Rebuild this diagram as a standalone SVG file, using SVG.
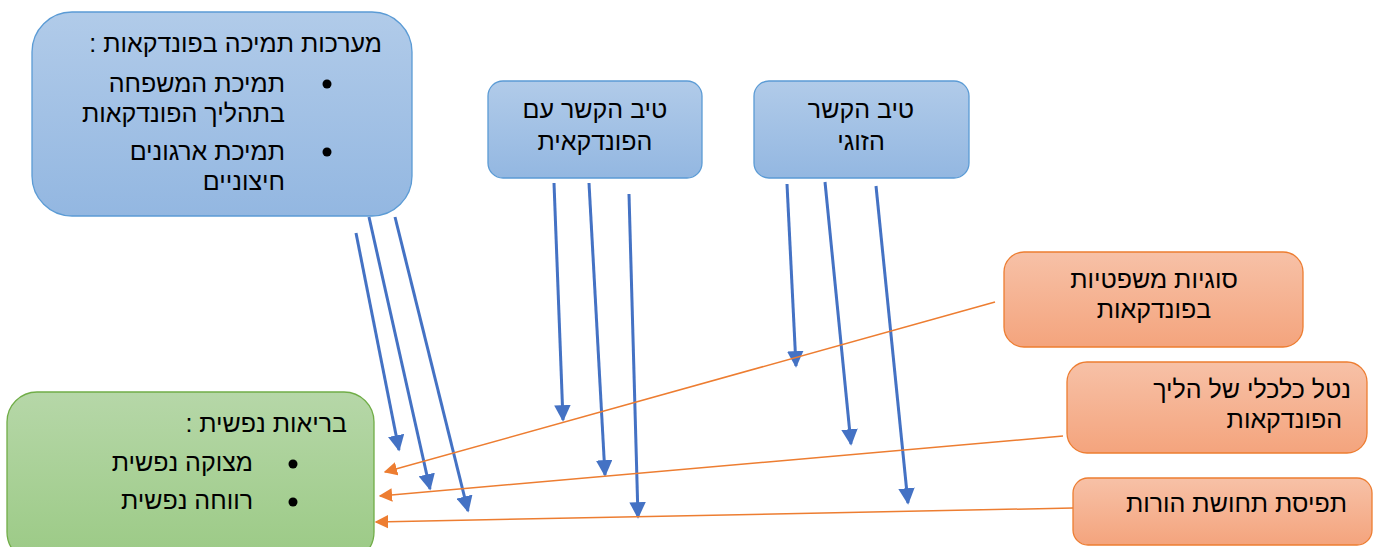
<svg xmlns="http://www.w3.org/2000/svg" width="1377" height="547" viewBox="0 0 1377 547">
  <style>
    .t { font-family: "Liberation Sans", "DejaVu Sans", sans-serif; font-size: 25px; fill: #000; }
    .r { direction: rtl; unicode-bidi: embed; text-anchor: start; }
    .c { direction: rtl; unicode-bidi: embed; text-anchor: middle; }
    .blue { fill: url(#gBlue); stroke: #5b9bd5; stroke-width: 1.3; }
    .green { fill: url(#gGreen); stroke: #70ad47; stroke-width: 1.3; }
    .orange { fill: url(#gOrange); stroke: #ed7d31; stroke-width: 1.3; }
    .ab { stroke: #4472c4; stroke-width: 3; fill: none; marker-end: url(#mBlue); }
    .ao { stroke: #ed7d31; stroke-width: 1.5; fill: none; marker-end: url(#mOrange); }
  </style>
  <defs>
    <linearGradient id="gBlue" x1="0" y1="0" x2="0" y2="1">
      <stop offset="0" stop-color="#b1cbe9"/>
      <stop offset="1" stop-color="#93b7e1"/>
    </linearGradient>
    <linearGradient id="gGreen" x1="0" y1="0" x2="0" y2="1">
      <stop offset="0" stop-color="#b6d7a8"/>
      <stop offset="1" stop-color="#9bca85"/>
    </linearGradient>
    <linearGradient id="gOrange" x1="0" y1="0" x2="0" y2="1">
      <stop offset="0" stop-color="#f7c1a7"/>
      <stop offset="1" stop-color="#f4a47d"/>
    </linearGradient>
    <marker id="mBlue" viewBox="0 0 10 10" refX="9" refY="5" markerWidth="5.5" markerHeight="5.5" orient="auto" markerUnits="strokeWidth">
      <path d="M0,0 L10,5 L0,10 Z" fill="#4472c4"/>
    </marker>
    <marker id="mOrange" viewBox="0 0 10 10" refX="9" refY="5" markerWidth="9" markerHeight="9" orient="auto" markerUnits="strokeWidth">
      <path d="M0,0 L10,5 L0,10 Z" fill="#ed7d31"/>
    </marker>
  </defs>

  <!-- support systems -->
  <g id="support">
    <rect class="blue" x="32" y="12" width="380" height="204" rx="40"/>
    <text class="t r" x="382" y="52">מערכות תמיכה בפונדקאות :</text>
    <circle cx="327" cy="84" r="4.5" fill="#000"/>
    <text class="t r" x="285" y="92">תמיכת המשפחה</text>
    <text class="t r" x="285" y="122">בתהליך הפונדקאות</text>
    <circle cx="327" cy="152" r="4.5" fill="#000"/>
    <text class="t r" x="285" y="160">תמיכת ארגונים</text>
    <text class="t r" x="285" y="190">חיצוניים</text>
  </g>

  <!-- relationship with surrogate -->
  <g id="surrogate-relation">
    <rect class="blue" x="488" y="81" width="214" height="97" rx="15"/>
    <text class="t c" x="595" y="118">טיב הקשר עם</text>
    <text class="t c" x="595" y="150">הפונדקאית</text>
  </g>

  <!-- couple relationship -->
  <g id="couple-relation">
    <rect class="blue" x="754" y="81" width="215" height="97" rx="15"/>
    <text class="t c" x="861" y="118">טיב הקשר</text>
    <text class="t c" x="861" y="150">הזוגי</text>
  </g>

  <!-- mental health -->
  <g id="mental-health">
    <rect class="green" x="7" y="392" width="367" height="170" rx="30"/>
    <text class="t r" x="347" y="432">בריאות נפשית :</text>
    <circle cx="293" cy="464" r="4.5" fill="#000"/>
    <text class="t r" x="253" y="471">מצוקה נפשית</text>
    <circle cx="293" cy="502" r="4.5" fill="#000"/>
    <text class="t r" x="253" y="509">רווחה נפשית</text>
  </g>

  <!-- legal issues -->
  <g id="legal">
    <rect class="orange" x="1004" y="252" width="299" height="95" rx="20"/>
    <text class="t c" x="1154" y="288">סוגיות משפטיות</text>
    <text class="t c" x="1154" y="318">בפונדקאות</text>
  </g>

  <!-- financial burden -->
  <g id="financial">
    <rect class="orange" x="1067" y="362" width="300" height="91" rx="20"/>
    <text class="t r" x="1351" y="398">נטל כלכלי של הליך</text>
    <text class="t r" x="1342" y="428">הפונדקאות</text>
  </g>

  <!-- parenthood perception -->
  <g id="parenthood">
    <rect class="orange" x="1073" y="478" width="299" height="67" rx="15"/>
    <text class="t r" x="1347" y="512">תפיסת תחושת הורות</text>
  </g>

  <g id="connectors">
    <line class="ab" x1="356" y1="233" x2="399" y2="450"/>
    <line class="ab" x1="369" y1="217" x2="430" y2="489"/>
    <line class="ab" x1="395" y1="217" x2="468" y2="511"/>
    <line class="ab" x1="554" y1="183" x2="563" y2="420"/>
    <line class="ab" x1="589" y1="183" x2="605" y2="475"/>
    <line class="ab" x1="629" y1="194" x2="638" y2="517"/>
    <line class="ab" x1="787" y1="184" x2="796" y2="366"/>
    <line class="ab" x1="825" y1="182" x2="851" y2="444"/>
    <line class="ab" x1="876" y1="186" x2="908" y2="503"/>
    <line class="ao" x1="995" y1="302" x2="385" y2="472"/>
    <line class="ao" x1="1063" y1="436" x2="380" y2="496"/>
    <line class="ao" x1="1073" y1="508" x2="376" y2="522"/>
  </g>
</svg>
